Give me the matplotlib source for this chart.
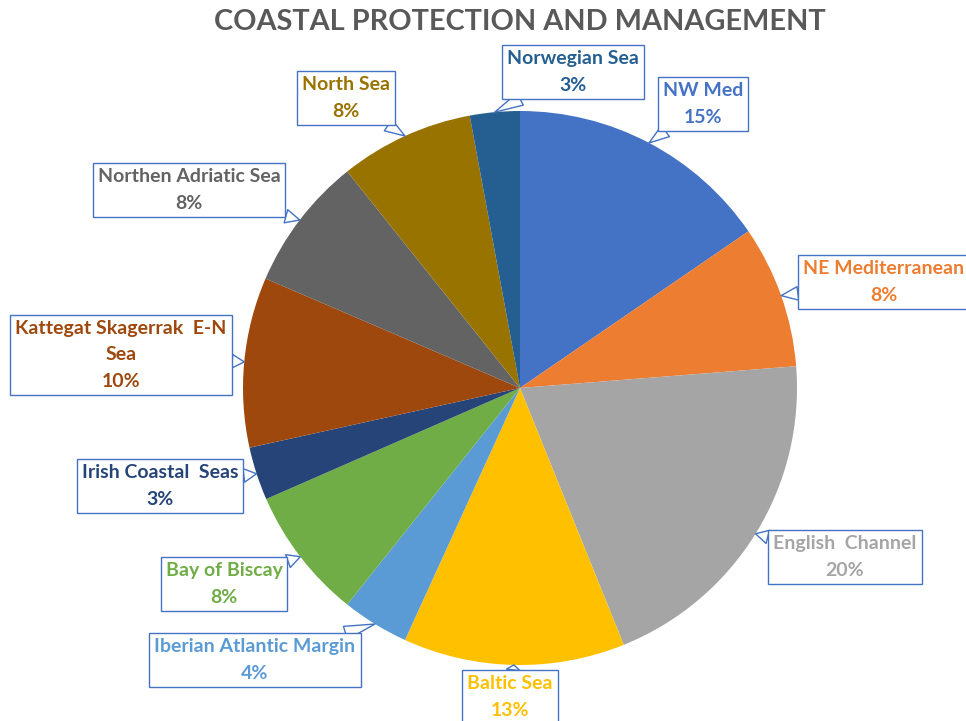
import matplotlib
matplotlib.use("Agg")
import matplotlib.pyplot as plt
import numpy as np

names = ["NW Med", "NE Mediterranean", "English  Channel", "Baltic Sea",
         "Iberian Atlantic Margin", "Bay of Biscay", "Irish Coastal  Seas",
         "Kattegat Skagerrak  E-N\nSea", "Northen Adriatic Sea", "North Sea",
         "Norwegian Sea"]
values = [15.4, 8.3, 20.1, 12.9, 3.9, 7.7, 3.1, 9.9, 7.8, 7.8, 2.9]
colors = ["#4472C4", "#ED7D31", "#A5A5A5", "#FFC000", "#5B9BD5", "#70AD47",
          "#264478", "#9E480E", "#636363", "#997300", "#255E91"]

# label box centers (pixel positions in the 966x721 canvas)
label_px = [(703, 104), (884, 282), (845, 557), (510, 697), (255, 660),
            (224, 584), (160, 486), (121, 355), (189, 190), (346, 98), (573, 72)]

W, H = 966, 721
cx, cy, R = 520, 388, 277

fig = plt.figure(figsize=(W / 100, H / 100), dpi=100)
ax = fig.add_axes([(cx - R) / W, (H - cy - R) / H, 2 * R / W, 2 * R / H])

wedges, _ = ax.pie(values, colors=colors, startangle=90, counterclock=False,
                   radius=1, wedgeprops=dict(linewidth=0))
ax.set_xlim(-1, 1)
ax.set_ylim(-1, 1)
ax.set_aspect("equal")
ax.axis("off")

font = "Lato"
for w, name, v, col, (px, py) in zip(wedges, names, values, colors, label_px):
    mid = np.deg2rad((w.theta1 + w.theta2) / 2)
    tx, ty = np.cos(mid), np.sin(mid)
    lx, ly = (px - cx) / R, (cy - py) / R
    ax.annotate(f"{name}\n{round(v):d}%", xy=(tx, ty), xytext=(lx, ly),
                ha="center", va="center", color=col, fontsize=14,
                fontweight="bold", family=font, linespacing=1.65,
                annotation_clip=False,
                bbox=dict(boxstyle="square,pad=0.26", fc="white",
                          ec="#4472C4", lw=1),
                arrowprops=dict(arrowstyle="wedge,tail_width=0.7,shrink_factor=0.5",
                                fc="white", ec="#4472C4", lw=1,
                                shrinkA=0, shrinkB=0))

fig.text(520 / W, 1 - 22 / H, "COASTAL PROTECTION AND MANAGEMENT",
         ha="center", va="center", fontsize=20.8, fontweight="bold",
         color="#595959", family=font)

fig.savefig("out.png", dpi=100)
